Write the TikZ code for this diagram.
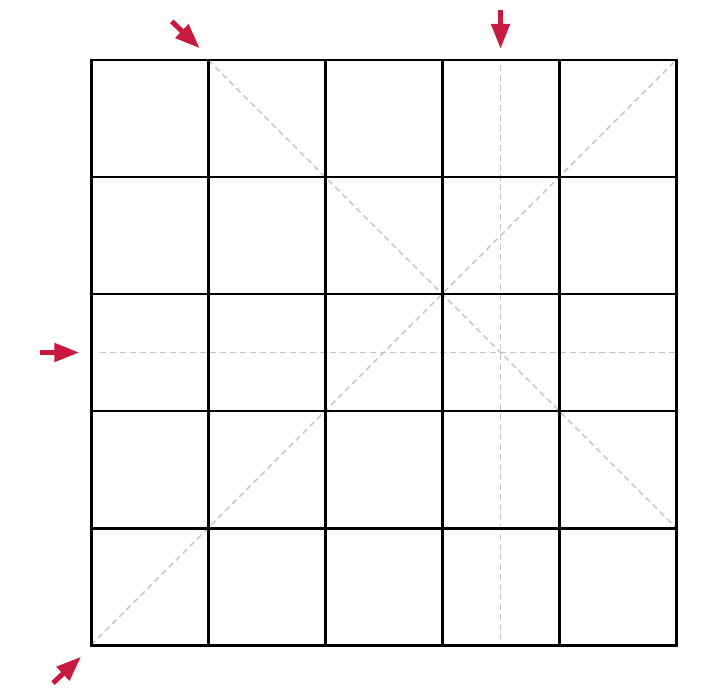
\documentclass[tikz,border=0pt]{standalone}
\usepackage{tikz}
\usepackage{xcolor}
\usetikzlibrary{arrows.meta, positioning, calc}
\definecolor{Crimson}{HTML}{C8193F}
\definecolor{GuideGray}{HTML}{C4C4C4}
\begin{document}
\begin{tikzpicture}[x=2.925cm, y=2.925cm,
    gridline/.style={line width=2.1pt, black, line cap=rect},
    guide/.style={line width=1pt, GuideGray, dash pattern=on 4.3pt off 2.8pt},
    pointer/.style={-{Triangle[length=17.8pt,width=12.8pt]}, line width=3.6pt, Crimson}]
    \useasboundingbox (-0.778,-0.419) rectangle (5.239,5.513);

    % Grid corners
    \coordinate (sw) at (0,0);
    \coordinate (ne) at (5,5);
    \coordinate (top1) at (1,5);
    \coordinate (right1) at (5,1);
    \coordinate (colmidtop) at (3.5,5);
    \coordinate (colmidbot) at (3.5,0);
    \coordinate (rowmidleft) at (0.08,2.5);
    \coordinate (rowmidright) at (5,2.5);

    % Guide lines
    \draw[guide] (sw) -- (ne);
    \draw[guide] (top1) -- (right1);
    \draw[guide] ($(colmidtop)+(0,-0.04)$) -- ($(colmidbot)+(0,0.04)$);
    \draw[guide] (rowmidleft) -- (rowmidright);

    % 5x5 grid
    \foreach \i in {0,...,5} {
        \draw[gridline] (\i,0) -- (\i,5);
        \draw[gridline] (0,\i) -- (5,\i);
    }

    % Arrows
    \coordinate (diagtip) at (0.93,5.1);
    \coordinate (diagtail) at (0.69,5.33);
    \coordinate (coltip) at (3.5,5.095);
    \coordinate (coltail) at (3.5,5.43);
    \coordinate (rowtip) at (-0.1,2.5);
    \coordinate (rowtail) at (-0.44,2.5);
    \coordinate (antitip) at (-0.085,-0.1);
    \coordinate (antitail) at (-0.325,-0.325);

    \draw[pointer] (diagtail) -- (diagtip);
    \draw[pointer] (coltail) -- (coltip);
    \draw[pointer] (rowtail) -- (rowtip);
    \draw[pointer] (antitail) -- (antitip);
\end{tikzpicture}
\end{document}
